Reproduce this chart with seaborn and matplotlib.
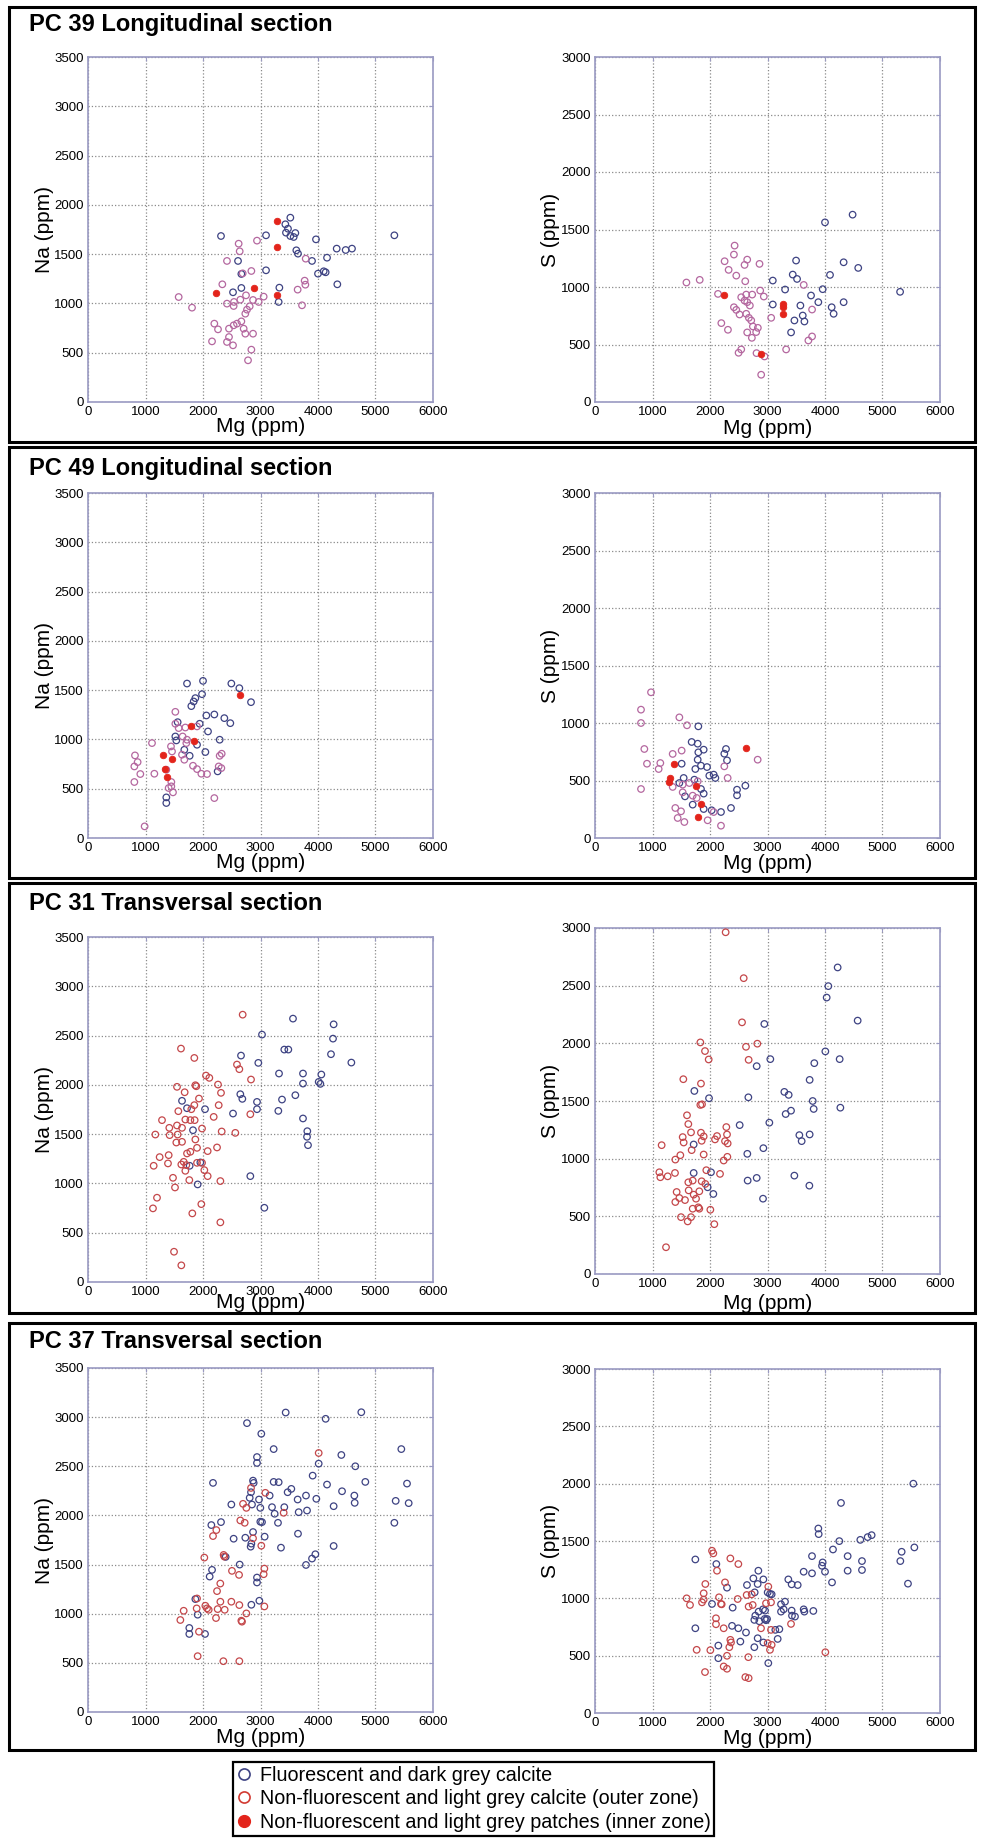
import matplotlib
matplotlib.use("Agg")
import matplotlib.pyplot as plt
import seaborn as sns
import pandas as pd
from matplotlib.patches import Rectangle
from matplotlib.lines import Line2D
from matplotlib import font_manager

# ---------------- data (Mg ppm, element ppm) ----------------
# PC 39 Longitudinal section
pc39_na_fluor = [(2313,1684),(3519,1870),(3432,1803),(3478,1758),(3443,1718),(3519,1684),(3577,1674),
    (3606,1714),(3096,1691),(3623,1539),(3652,1505),(3965,1650),(5328,1691),(4325,1556),(4481,1542),
    (4591,1556),(4157,1464),(3896,1431),(2609,1431),(3096,1336),(2667,1299),(4000,1302),(4099,1326),
    (4133,1316),(4336,1194),(3328,1160),(2667,1157),(2522,1113),(3316,1015)]
pc39_na_outer = [(2620,1606),(2638,1529),(2939,1637),(2417,1431),(2841,1329),(2690,1305),(2336,1194),
    (2417,998),(2533,974),(2539,1015),(2649,1038),(2748,1082),(2870,1035),(2968,1015),(3055,1069),
    (2812,971),(2765,937),(2736,896),(2667,818),(2591,795),(2533,778),(2452,744),(2197,795),(2261,737),
    (2157,615),(2417,609),(2452,659),(2522,575),(2707,744),(2736,693),(2870,693),(2841,531),(2783,423),
    (1577,1065),(1809,957),(3646,1140),(3780,1190),(3768,1231),(3786,1454),(3722,981)]
pc39_na_inner = [(2232,1106),(2881,1157),(3293,1840),(3293,1569),(3293,1086)]

pc39_s_fluor = [(3092,1056),(3092,848),(3306,978),(3410,605),(3468,709),(3439,1108),(3514,1070),
    (3497,1230),(3572,839),(3613,752),(3642,700),(3757,926),(3884,868),(3960,981),(4000,1562),
    (4087,1105),(4116,824),(4150,767),(4324,1215),(4324,868),(4480,1629),(4578,1166),(5306,958)]
pc39_s_outer = [(1590,1039),(1821,1062),(2139,940),(2197,686),(2312,628),(2254,1224),(2324,1149),
    (2428,1360),(2416,1282),(2457,1099),(2613,1050),(2647,1238),(2601,1192),(2861,1201),(2416,824),
    (2457,801),(2514,761),(2543,911),(2601,882),(2647,868),(2693,839),(2630,934),(2734,934),(2630,767),
    (2676,732),(2717,709),(2746,657),(2832,645),(2803,608),(2728,558),(2647,605),(2873,969),(2936,917),
    (3064,732),(2543,457),(2497,428),(2809,425),(2948,396),(2890,237),(3324,457),(3630,1018),(3775,804),
    (3711,535),(3775,570)]
pc39_s_inner = [(2243,934),(2890,414),(3277,848),(3277,825),(3277,761)]

# PC 49 Longitudinal section
pc49_na_fluor = [(1722,1567),(2000,1594),(1983,1459),(1867,1419),(1838,1385),(1797,1338),(2493,1567),
    (2632,1520),(2835,1378),(2058,1243),(2197,1253),(2371,1216),(2475,1165),(1942,1159),(1559,1175),
    (2087,1081),(2290,997),(1519,1030),(1536,990),(1896,946),(1675,895),(1768,834),(2041,872),
    (2255,676),(1362,412),(1362,355)]
pc49_na_outer = [(1519,1280),(1519,1159),(1577,1115),(1693,1121),(1896,1132),(1646,1030),(1722,997),
    (1710,963),(1443,929),(1113,963),(1461,878),(1635,845),(1675,794),(2290,834),(2325,855),(817,838),
    (863,770),(806,726),(910,649),(1154,652),(806,568),(1362,693),(1826,733),(1896,699),(1971,652),
    (2070,649),(2319,709),(2273,726),(1449,568),(1449,524),(1403,507),(1478,463),(2197,405),(985,118)]
pc49_na_inner = [(2638,1449),(1797,1132),(1838,980),(1299,845),(1455,804),(1333,699),(1374,618)]

pc49_s_fluor = [(1797,971),(1681,835),(1786,820),(1797,745),(1890,768),(1507,646),(1786,681),
    (1745,600),(1843,629),(1948,617),(1988,542),(2064,551),(2093,522),(2278,774),(2249,733),(2296,675),
    (2615,455),(2470,420),(2470,371),(2365,261),(1467,478),(1542,522),(1565,362),(1728,507),(1843,426),
    (1890,386),(1699,290),(1890,252),(2029,241),(2191,226)]
pc49_s_outer = [(974,1267),(800,1116),(800,1000),(1467,1049),(1600,980),(858,774),(1351,731),
    (1507,760),(904,646),(1136,652),(1107,600),(2249,623),(2307,522),(2829,681),(800,426),(1351,444),
    (1525,464),(1641,478),(1525,397),(1786,493),(1699,368),(1397,261),(1496,232),(1438,174),(1554,139),
    (1959,154),(2064,226),(2191,107),(1768,348)]
pc49_s_inner = [(1368,644),(2626,783),(1310,522),(1293,487),(1757,449),(1843,299),(1797,183)]

# PC 31 Transversal section
pc31_na_fluor = [(3565,2672),(4272,2614),(4261,2469),(3026,2510),(4226,2311),(4580,2226),(3414,2358),
    (3484,2358),(2661,2297),(2962,2223),(3322,2115),(3739,2115),(3739,2013),(4012,2030),(4041,2010),
    (4058,2105),(1635,1838),(2649,1905),(2684,1858),(2939,1827),(3606,1895),(3374,1851),(1722,1763),
    (2035,1753),(2522,1709),(2939,1753),(3310,1736),(3739,1659),(1826,1540),(3814,1530),(3809,1473),
    (3826,1388),(1768,1179),(1954,1213),(1907,990),(2823,1074),(3067,753)]
pc31_na_outer = [(2690,2712),(1617,2368),(1849,2273),(2591,2206),(2632,2159),(2835,2054),(2052,2094),
    (2110,2071),(1548,1980),(1867,1996),(1884,1986),(2261,2003),(2313,1919),(1681,1925),(1930,1861),
    (1849,1794),(1797,1753),(2273,1794),(1571,1733),(2823,1702),(2186,1675),(1287,1642),(1693,1648),
    (1780,1642),(1855,1642),(1983,1557),(2325,1527),(2562,1513),(1171,1496),(1414,1564),(1420,1490),
    (1548,1588),(1635,1564),(1559,1496),(1635,1422),(1536,1415),(1867,1446),(1896,1361),(2244,1365),
    (2081,1328),(1722,1304),(1780,1321),(1246,1267),(1403,1287),(1391,1203),(1142,1179),(1664,1219),
    (1623,1192),(1710,1186),(1896,1209),(1983,1209),(1693,1128),(2023,1135),(2081,1074),(2302,1024),
    (1478,1057),(1762,1034),(1513,959),(1200,855),(1130,747),(1971,790),(1814,696),(2302,605),
    (1496,307),(1623,169)]

pc31_s_fluor = [(4220,2658),(4058,2496),(4029,2397),(4568,2197),(2945,2168),(2812,1802),(3049,1863),
    (4006,1930),(4255,1863),(3814,1828),(3733,1683),(1728,1587),(1983,1524),(2667,1532),(3293,1579),
    (3368,1553),(3786,1500),(3803,1431),(4267,1442),(3409,1416),(3316,1387),(1716,1123),(2516,1291),
    (3032,1312),(3554,1204),(3594,1152),(3733,1210),(2649,1042),(2928,1091),(1716,876),(2017,882),
    (1959,752),(2655,810),(2812,833),(3467,853),(3728,766),(2922,653),(2058,694)]
pc31_s_outer = [(2272,2963),(2586,2565),(2557,2182),(1832,2008),(1913,1933),(1977,1860),(2626,1970),
    (2823,1997),(2672,1857),(1536,1689),(1843,1651),(1832,1466),(1861,1471),(1600,1376),(1623,1300),
    (1670,1228),(1843,1225),(1890,1193),(1525,1187),(1542,1140),(1855,1155),(2122,1196),(2087,1167),
    (2284,1274),(2296,1210),(2307,1132),(2261,1152),(1159,1117),(1681,1074),(1484,1030),(1397,992),
    (1890,1036),(2302,1016),(2238,984),(1119,882),(1136,839),(1264,847),(1391,876),(1936,900),
    (1855,804),(1919,781),(1623,795),(1699,810),(2174,868),(1420,711),(1629,725),(1814,717),(1716,688),
    (1757,653),(1397,624),(1467,659),(1565,641),(1797,578),(1814,566),(1699,566),(2006,557),(1496,493),
    (1612,456),(1670,493),(2075,432),(1235,232)]

# PC 37 Transversal section
pc37_na_fluor = [(3438,3047),(4753,3050),(4133,2983),(2765,2939),(3014,2831),(3229,2675),(5449,2675),
    (2939,2594),(2939,2534),(4012,2527),(4406,2615),(4649,2500),(3907,2405),(2174,2331),(2870,2354),
    (2881,2331),(3229,2341),(3316,2338),(3159,2202),(3536,2270),(3472,2236),(2835,2236),(2812,2179),
    (2974,2162),(2852,2111),(2997,2077),(2493,2111),(3200,2084),(3246,2017),(3414,2084),(3646,2162),
    (3791,2202),(3971,2169),(4157,2314),(4418,2246),(4632,2202),(4638,2128),(4272,2094),(4823,2341),
    (5548,2324),(5351,2148),(5577,2125),(5328,1925),(3809,2050),(3664,2033),(3304,1925),(2997,1936),
    (3026,1932),(2313,1932),(2145,1902),(2533,1763),(2736,1773),(2870,1831),(2841,1713),(2829,1682),
    (3072,1784),(3652,1814),(3356,1672),(4272,1689),(3954,1605),(3896,1561),(3791,1496),(2394,1578),
    (2638,1500),(2157,1446),(2116,1378),(2939,1368),(2939,1318),(1867,1149),(2841,1091),(2980,1132),
    (1907,990),(1762,855),(1762,794),(2035,794)]
pc37_na_outer = [(4012,2635),(2835,2280),(3084,2230),(2696,2118),(2754,2077),(3403,2027),(2649,1949),
    (2725,1925),(2232,1851),(2174,1790),(2870,1767),(3014,1692),(2023,1571),(2359,1598),(2371,1581),
    (2504,1436),(2627,1395),(3067,1459),(3055,1402),(2301,1307),(2244,1230),(1896,1155),(2302,1122),
    (2493,1122),(2632,1088),(3067,1074),(1664,1030),(1890,1054),(2041,1081),(2099,1040),(2070,1054),
    (2255,1047),(2377,1040),(2754,1003),(2226,956),(1606,936),(2678,919),(2667,929),(1930,817),
    (1907,568),(2354,517),(2632,517)]

pc37_s_fluor = [(5536,2000),(4278,1832),(3884,1609),(3890,1560),(4249,1499),(4614,1510),(4742,1534),
    (4811,1551),(5333,1406),(5554,1444),(5310,1325),(5443,1128),(4139,1426),(4394,1368),(3774,1368),
    (3959,1313),(3948,1284),(4000,1232),(4643,1325),(4643,1247),(4394,1241),(3629,1232),(3774,1218),
    (4122,1139),(3362,1165),(3420,1122),(3525,1116),(1745,1339),(2110,1299),(2841,1241),(2928,1165),
    (2754,1174),(2643,1116),(2829,1125),(2296,1093),(2035,951),(2777,1052),(3003,1052),(3043,1038),
    (3072,1035),(2394,919),(3235,948),(3304,971),(3235,884),(3281,904),(3420,893),(3478,841),(3426,849),
    (3629,904),(3641,884),(3797,890),(2846,884),(2922,904),(2788,849),(2771,812),(2951,820),(2974,809),
    (2992,820),(2957,893),(2383,760),(2493,739),(2626,702),(3136,725),(3206,731),(2858,800),(2829,652),
    (2528,623),(2771,574),(2928,615),(3177,646),(2145,588),(2145,478),(3014,435),(1745,739)]
pc37_s_outer = [(2035,1415),(2058,1392),(2354,1348),(2493,1299),(2122,1241),(3014,1102),(2261,1139),
    (1919,1125),(1890,1044),(1594,1000),(1652,942),(1861,965),(1890,989),(2157,1009),(2191,951),
    (2203,948),(2481,994),(2638,1029),(2725,1035),(2974,957),(3061,965),(2672,928),(2742,942),
    (2104,826),(2104,774),(2238,739),(2887,739),(3061,725),(3409,777),(2354,638),(2365,615),(2336,574),
    (3003,609),(3072,594),(3043,551),(4006,530),(2006,548),(1768,551),(2296,499),(2667,487),(2238,406),
    (2296,386),(1913,357),(2615,313),(2672,304)]

titles = ["PC 39 Longitudinal section", "PC 49 Longitudinal section",
          "PC 31 Transversal section", "PC 37 Transversal section"]
legend_labels = ["Fluorescent and dark grey calcite",
                 "Non-fluorescent and light grey calcite (outer zone)",
                 "Non-fluorescent and light grey patches (inner zone)"]
x_ticks = [0, 1000, 2000, 3000, 4000, 5000, 6000]
na_ticks = [0, 500, 1000, 1500, 2000, 2500, 3000, 3500]
s_ticks = [0, 500, 1000, 1500, 2000, 2500, 3000]

# ---------------- style ----------------
C_FLUOR = "#3e4383"
C_OUTER_PINK = "#b4679f"
C_OUTER_RED = "#c4474a"
C_INNER = "#e3241b"
C_LEG_OUTER = "#d23a32"
SPINE = "#9a9ac2"

sns.set_theme(style="white")
avail = {f.name for f in font_manager.fontManager.ttflist}
main_font = "Liberation Sans" if "Liberation Sans" in avail else "DejaVu Sans"
plt.rcParams["font.family"] = [main_font, "DejaVu Sans"]
plt.rcParams["text.color"] = "black"
plt.rcParams["axes.labelcolor"] = "black"
plt.rcParams["xtick.color"] = "black"
plt.rcParams["ytick.color"] = "black"

W, H = 984, 1843
fig = plt.figure(figsize=(W / 100, H / 100), dpi=100)
fig.patch.set_facecolor("white")


def frac_rect(x0, y0, x1, y1):
    return [x0 / W, 1 - y1 / H, (x1 - x0) / W, (y1 - y0) / H]


def draw(ax, groups, yticks, ylabel, xlab_off):
    for pts, kind, col in groups:
        df = pd.DataFrame(pts, columns=["Mg", "V"])
        if kind == "open":
            sns.scatterplot(data=df, x="Mg", y="V", ax=ax, color=col, facecolor="none",
                            edgecolor=col, s=22, linewidth=0.9, legend=False, zorder=3)
        else:
            sns.scatterplot(data=df, x="Mg", y="V", ax=ax, color=col, edgecolor=col,
                            s=22, linewidth=0.6, legend=False, zorder=4)
    ax.set_xlim(0, 6000)
    ax.set_ylim(0, yticks[-1])
    ax.set_xticks(x_ticks)
    ax.set_yticks(yticks)
    ax.grid(True, linestyle=":", color="#8a8a8a", linewidth=0.9)
    ax.set_axisbelow(True)
    for sp in ax.spines.values():
        sp.set_color(SPINE)
        sp.set_linewidth(1.2)
    ax.tick_params(direction="in", length=3, width=0.8, color=SPINE, top=True, right=True,
                   labelsize=9.5, pad=3, labelcolor="black")
    ax.set_xlabel("Mg (ppm)", fontsize=15, va="center", color="black")
    ax.xaxis.set_label_coords(0.5, -xlab_off / 345)
    ax.set_ylabel(ylabel, fontsize=15, va="center", color="black")
    ax.yaxis.set_label_coords(-44 / 345, 0.5)


panels = [
    dict(title=titles[0], box=(9, 7, 975, 442), ty=25, ly=(57, 402), ry=(57, 402),
         na=[(pc39_na_fluor, "open", C_FLUOR), (pc39_na_outer, "open", C_OUTER_PINK),
             (pc39_na_inner, "fill", C_INNER)],
         s=[(pc39_s_fluor, "open", C_FLUOR), (pc39_s_outer, "open", C_OUTER_PINK),
            (pc39_s_inner, "fill", C_INNER)], xo=(25, 26)),
    dict(title=titles[1], box=(9, 447, 975, 878), ty=468, ly=(493, 838), ry=(493, 838),
         na=[(pc49_na_fluor, "open", C_FLUOR), (pc49_na_outer, "open", C_OUTER_PINK),
             (pc49_na_inner, "fill", C_INNER)],
         s=[(pc49_s_fluor, "open", C_FLUOR), (pc49_s_outer, "open", C_OUTER_PINK),
            (pc49_s_inner, "fill", C_INNER)], xo=(24, 25)),
    dict(title=titles[2], box=(9, 883, 975, 1313), ty=904, ly=(937, 1282), ry=(928, 1274),
         na=[(pc31_na_fluor, "open", C_FLUOR), (pc31_na_outer, "open", C_OUTER_RED)],
         s=[(pc31_s_fluor, "open", C_FLUOR), (pc31_s_outer, "open", C_OUTER_RED)], xo=(20, 29)),
    dict(title=titles[3], box=(9, 1323, 975, 1750), ty=1342, ly=(1368, 1712), ry=(1369, 1713),
         na=[(pc37_na_fluor, "open", C_FLUOR), (pc37_na_outer, "open", C_OUTER_RED)],
         s=[(pc37_s_fluor, "open", C_FLUOR), (pc37_s_outer, "open", C_OUTER_RED)], xo=(26, 26)),
]

for p in panels:
    x0, y0, x1, y1 = p["box"]
    fig.add_artist(Rectangle((x0 / W, 1 - y1 / H), (x1 - x0) / W, (y1 - y0) / H,
                             transform=fig.transFigure, fill=False, lw=2.2, ec="black", zorder=0))
    fig.text(29 / W, 1 - p["ty"] / H, p["title"], fontsize=17, fontweight="bold",
             ha="left", va="center", color="black")
    axl = fig.add_axes(frac_rect(88, p["ly"][0], 433, p["ly"][1]))
    draw(axl, p["na"], na_ticks, "Na (ppm)", p["xo"][0])
    axr = fig.add_axes(frac_rect(595, p["ry"][0], 940, p["ry"][1]))
    draw(axr, p["s"], s_ticks, "S (ppm)", p["xo"][1])

handles = [
    Line2D([], [], marker="o", ls="none", markerfacecolor="none", markeredgecolor=C_FLUOR,
           markersize=8, markeredgewidth=1.2),
    Line2D([], [], marker="o", ls="none", markerfacecolor="none", markeredgecolor=C_LEG_OUTER,
           markersize=8, markeredgewidth=1.2),
    Line2D([], [], marker="o", ls="none", markerfacecolor=C_INNER, markeredgecolor=C_INNER,
           markersize=8.5),
]
leg = fig.legend(handles, legend_labels, loc="upper left",
                 bbox_to_anchor=(233 / W, 1 - 1762 / H), fontsize=14.2, frameon=True,
                 fancybox=False, borderpad=0.2, labelspacing=0.22, handlelength=0.75,
                 handletextpad=0.4, borderaxespad=0)
leg.get_frame().set_edgecolor("black")
leg.get_frame().set_linewidth(1.6)
leg.get_frame().set_alpha(1)
for t in leg.get_texts():
    t.set_color("black")

fig.savefig("out.png", dpi=100, facecolor="white")
